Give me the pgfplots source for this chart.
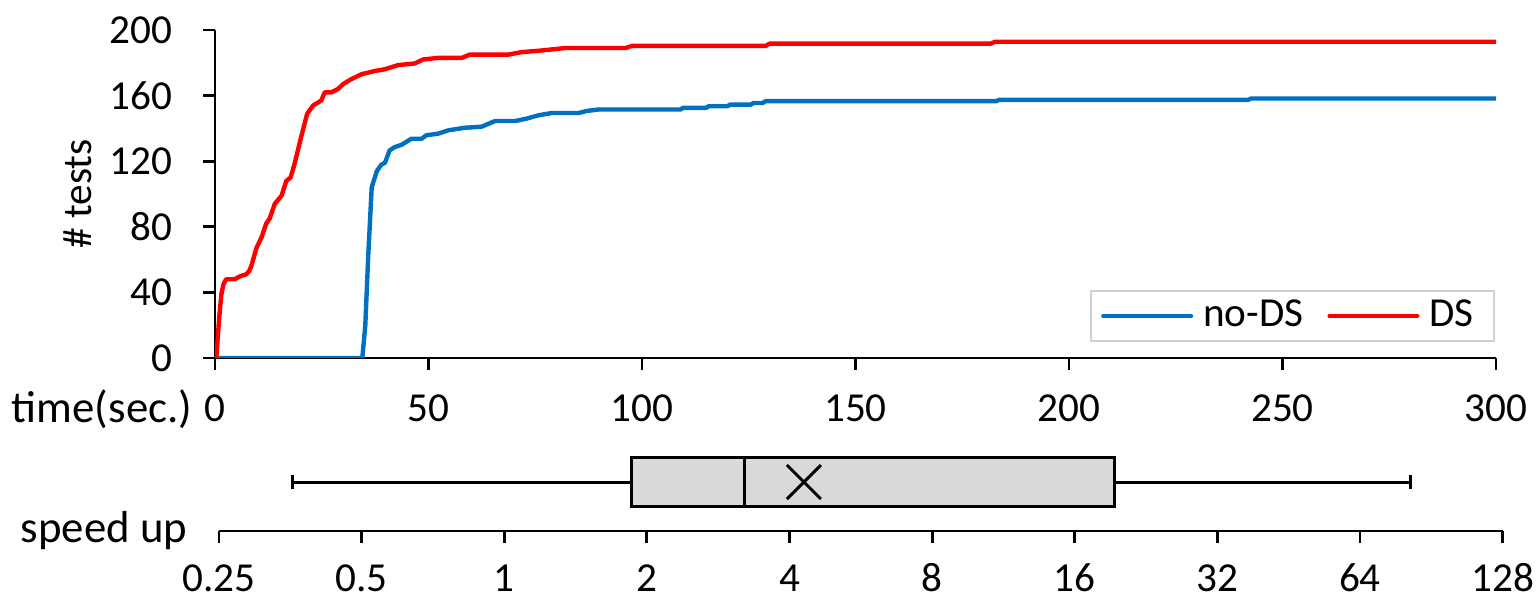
\documentclass[border=0pt]{standalone}
\usepackage{fontspec}
\setmainfont{Carlito}
\usepackage{pgfplots}
\pgfplotsset{compat=1.18}
\usepgfplotslibrary{statistics}

\definecolor{dsblue}{RGB}{0,112,192}
\definecolor{dsred}{RGB}{255,0,0}
\definecolor{boxgray}{RGB}{217,217,217}
\definecolor{legframe}{RGB}{210,210,210}

\pgfplotstableread{
x y
0 0
0.3 0
1.0 25
1.5 39
2.0 45
2.6 48
4.6 48
6.0 50
7.3 51
8.0 53
8.5 56
9.7 67
10.9 73.6
12.0 82
12.8 85
14.0 94
15.6 99
16.7 108
17.7 110
18.6 118
20.2 135
21.6 149
23.0 154
24.9 157
25.7 162
27.3 162
28.8 164
30.0 167
31.9 170
34.3 173
37.4 175
39.7 176
42.9 178.6
46.8 179.6
48.7 182
52.3 183
57.8 183
59.7 185
68.7 185
71.8 186.5
76.5 187.5
82 189
96.1 189
97.7 190.3
129 190.3
129.9 191.7
181.7 191.7
182.7 192.8
300 192.8
}\dsdata

\pgfplotstableread{
x y
0 0
34.5 0
35.2 20
35.9 63
36.7 104
37.9 114
39.0 118
39.8 119
40.9 126.6
42.1 128.6
43.7 130
46 133.7
48.4 133.7
49.5 135.8
52.3 136.8
54.6 138.8
58.5 140.4
62.4 141
65.6 144.5
70.3 144.5
73 146
75.8 148
78.9 149.4
85.2 149.4
87 150.6
89.8 151.5
109 151.5
109.6 152.5
115 152.5
115.6 153.5
120 153.5
120.6 154.5
125.5 154.5
126.1 155.5
128.3 155.5
128.9 156.6
183 156.6
183.6 157.4
242 157.4
242.6 158.2
300 158.2
}\nodsdata

\begin{document}
\begin{tikzpicture}[font=\fontsize{10.3}{12}\selectfont]
\useasboundingbox (-53.75pt,-60.25pt) rectangle (331pt,89.5pt);
\begin{axis}[
  at={(0pt,0pt)}, anchor=south west,
  scale only axis, width=320.25pt, height=82pt,
  xmin=0, xmax=300, ymin=0, ymax=200,
  axis lines*=left,
  axis line style={line width=0.7pt, black},
  tick style={line width=0.7pt, black},
  major tick length=3pt,
  tick align=outside,
  xtick={0,50,...,300}, ytick={0,40,...,200},
  /pgf/number format/assume math mode=true,
  ticklabel style={font=\fontsize{10.3}{12}\selectfont},
  yticklabel style={anchor=east, inner sep=0pt, xshift=-7.5pt},
  xticklabel style={anchor=center, inner sep=0pt, yshift=-9.5pt},
  xlabel={time(sec.)},
  xlabel style={at={(axis description cs:0,0)}, anchor=east, inner sep=0pt,
    xshift=-5.5pt, yshift=-12.75pt, font=\fontsize{11.2}{13}\selectfont},
  ylabel={\# tests},
  ylabel style={at={(axis description cs:-0.107,0.5)}, anchor=center, inner sep=0pt,
    font=\fontsize{10.3}{12}\selectfont},
  legend columns=2,
  legend style={at={(axis description cs:0.999,0.049)}, anchor=south east,
    draw=legframe, line width=0.5pt, inner xsep=2.5pt, inner ysep=1.2pt,
    nodes={inner ysep=1pt, inner xsep=2.5pt},
    font=\fontsize{10.3}{12}\selectfont,
    /tikz/every even column/.append style={column sep=3.5pt}},
  legend cell align=left,
  legend image code/.code={\draw[#1, line width=1pt, line cap=round] (0pt,0pt) -- (22pt,0pt);},
]
\addplot[dsblue, line width=1.1pt, line join=round] table[x=x,y=y] {\nodsdata};
\addlegendentry{no-DS}
\addplot[dsred, line width=1.1pt, line join=round] table[x=x,y=y] {\dsdata};
\addlegendentry{DS}
\end{axis}

\begin{axis}[
  at={(1pt,-43.25pt)}, anchor=south west,
  scale only axis, width=320.9pt, height=24.5pt,
  xmode=log, log basis x=2, xmin=0.25, xmax=128, ymin=0, ymax=1,
  axis x line*=bottom, axis y line=none,
  axis line style={line width=0.7pt, black},
  tick style={line width=0.7pt, black},
  major tick length=3pt,
  tick align=outside,
  xtick={0.25,0.5,1,2,4,8,16,32,64,128},
  xticklabels={0.25,0.5,1,2,4,8,16,32,64,128},
  minor xtick={},
  ticklabel style={font=\fontsize{10.3}{12}\selectfont},
  xticklabel style={anchor=center, inner sep=0pt, yshift=-8.75pt},
  xlabel={speed up},
  xlabel style={at={(axis description cs:0,0)}, anchor=east, inner sep=0pt,
    xshift=-7.75pt, yshift=0pt, font=\fontsize{11.2}{13}\selectfont},
  clip=false,
]
\addplot[draw=black, fill=boxgray, line width=0.75pt, solid, mark=none,
  boxplot prepared={lower whisker=0.358, lower quartile=1.858, median=3.21,
    upper quartile=19.39, upper whisker=81.98, draw position=0.5,
    box extend=0.495, whisker extend=0.15, draw direction=x}]
  coordinates {};
\addplot[only marks, mark=x, mark size=6pt, mark options={line width=0.75pt, black}]
  coordinates {(4.29,0.5)};
\end{axis}
\end{tikzpicture}
\end{document}
